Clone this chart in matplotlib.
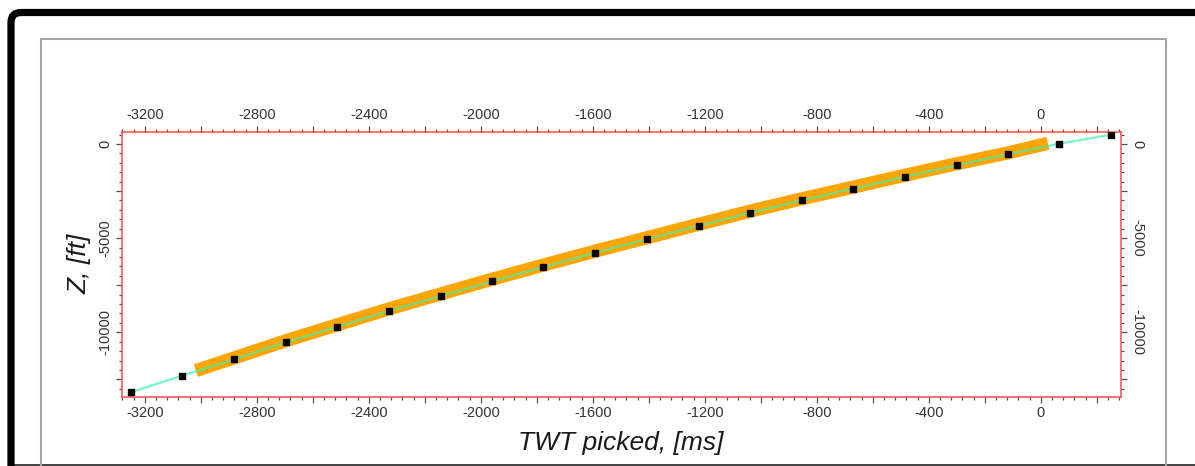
import matplotlib
matplotlib.use("Agg")
import matplotlib.pyplot as plt
from matplotlib.ticker import MultipleLocator, FuncFormatter
from matplotlib.patches import FancyBboxPatch, Rectangle
from matplotlib.lines import Line2D
from matplotlib.transforms import IdentityTransform

plt.rcParams["font.family"] = ["Liberation Sans", "DejaVu Sans"]

# picked checkshot points (black squares + line)
twt_pick = [-3250, -3067, -2881, -2697, -2513, -2329, -2143, -1960, -1777, -1592,
            -1408, -1221, -1039, -854, -670, -486, -301, -117, 64, 252]
z_pick = [-13186, -12305, -11434, -10531, -9703, -8869, -8072, -7292, -6532, -5773,
          -5061, -4339, -3648, -2990, -2374, -1737, -1131, -547, 16, 494]

# log time-depth samples (orange band)
twt_log = [-3018, -2881, -2697, -2513, -2329, -2143, -1960, -1777, -1592, -1408,
           -1221, -1039, -854, -670, -486, -301, -117, 25]
z_log = [-12030, -11360, -10450, -9600, -8760, -7960, -7180, -6430, -5690, -4980,
         -4260, -3570, -2910, -2290, -1660, -1050, -470, 40]

x_labels_every = 400
y_labels_every = 5000

fig = plt.figure(figsize=(11.95, 4.66), dpi=100)
fig.patch.set_facecolor("white")

# outer black frame and grey panel (pixel coords, origin bottom-left)
fig.patches.append(FancyBboxPatch((11, -60), 1210, 513.5, boxstyle="round,pad=0,rounding_size=10",
                                  transform=IdentityTransform(), fill=False,
                                  edgecolor="black", linewidth=5.2, zorder=0))
fig.lines.append(Line2D([11, 1195], [0.8, 0.8], transform=IdentityTransform(),
                        color="#222222", linewidth=1.2, zorder=0))
fig.patches.append(Rectangle((40.5, -20), 1125, 447, transform=IdentityTransform(),
                             fill=False, edgecolor="#a4a4a4", linewidth=1.5, zorder=0))

ax = fig.add_axes([0.1018, 0.1487, 0.836, 0.5687])

ax.plot(twt_log, z_log, color="#ffa500", lw=9.5, solid_capstyle="butt", zorder=2)
ax.plot(twt_pick, z_pick, color="#3ef0b4", lw=1.6, alpha=0.7, zorder=3)
ax.plot(twt_pick, z_pick, ls="none", marker="s", ms=4.3, color="black", zorder=4)

ax.set_xlim(-3283, 285)
ax.set_ylim(-13420, 653)

ax.xaxis.set_major_locator(MultipleLocator(200))
ax.xaxis.set_minor_locator(MultipleLocator(40))
ax.yaxis.set_major_locator(MultipleLocator(2500))
ax.yaxis.set_minor_locator(MultipleLocator(500))
ax.xaxis.set_major_formatter(FuncFormatter(
    lambda v, p: f"{int(round(v))}" if round(v) % x_labels_every == 0 else ""))
ax.yaxis.set_major_formatter(FuncFormatter(
    lambda v, p: f"{int(round(v))}" if round(v) % y_labels_every == 0 else ""))

for s in ax.spines.values():
    s.set_color("#ff4d4d")
    s.set_linewidth(1.1)

ax.tick_params(which="both", direction="out", top=True, right=True,
               labeltop=True, labelright=True, color="#505050",
               labelcolor="#333333", labelsize=10.5)
ax.tick_params(which="major", length=4, width=0.9)
ax.tick_params(which="minor", length=2, width=0.9)
ax.tick_params(axis="x", which="major", pad=3)
ax.tick_params(axis="y", which="major", pad=3)

for t in ax.yaxis.get_major_ticks():
    t.label1.set_rotation(90)
    t.label1.set_va("center")
    t.label2.set_rotation(-90)
    t.label2.set_va("center")

ax.set_xlabel("TWT picked, [ms]", fontsize=19, style="italic", color="#1a1a1a", va="center")
ax.xaxis.set_label_coords(0.5, -0.1747)
ax.set_ylabel("Z, [ft]", fontsize=19, style="italic", color="#1a1a1a", va="center")
ax.yaxis.set_label_coords(-0.0417, 0.5)

fig.savefig("out.png", dpi=100)
